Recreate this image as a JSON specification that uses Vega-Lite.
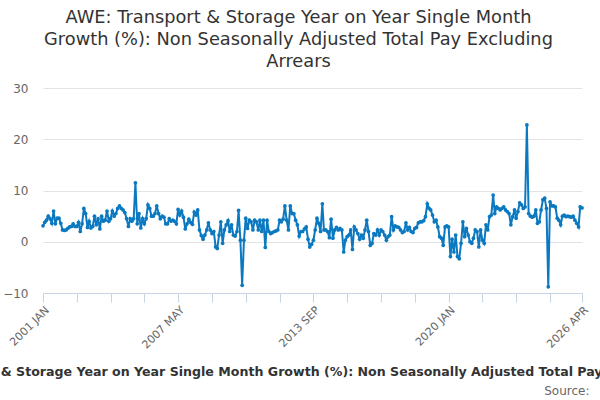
{
  "$schema": "https://vega.github.io/schema/vega-lite/v6.json",
  "width": 539,
  "height": 205,
  "autosize": {"type": "none"},
  "padding": {"left": 43, "top": 88, "right": 18, "bottom": 107},
  "title": {
    "text": ["AWE: Transport & Storage Year on Year Single Month", "Growth (%): Non Seasonally Adjusted Total Pay Excluding", "Arrears"],
    "font": "DejaVu Sans",
    "fontSize": 17.8,
    "fontWeight": "normal",
    "color": "#333333",
    "lineHeight": 22,
    "anchor": "middle",
    "dx": -14,
    "offset": 11
  },
  "config": {
    "view": {"stroke": null},
    "font": "DejaVu Sans"
  },
  "data": {
    "format": {"parse": {"m": "date:'%Y-%m'"}},
    "values": [
      {"m": "2001-01", "v": 3.1}, {"m": "2001-02", "v": 3.8}, {"m": "2001-03", "v": 4.2}, {"m": "2001-04", "v": 5.0},
      {"m": "2001-05", "v": 4.5}, {"m": "2001-06", "v": 3.6}, {"m": "2001-07", "v": 6.0}, {"m": "2001-08", "v": 3.5},
      {"m": "2001-09", "v": 4.6}, {"m": "2001-10", "v": 4.6}, {"m": "2001-11", "v": 3.6}, {"m": "2001-12", "v": 2.3},
      {"m": "2002-01", "v": 2.2}, {"m": "2002-02", "v": 2.3}, {"m": "2002-03", "v": 2.6}, {"m": "2002-04", "v": 2.9},
      {"m": "2002-05", "v": 3.0}, {"m": "2002-06", "v": 3.5}, {"m": "2002-07", "v": 3.0}, {"m": "2002-08", "v": 3.0},
      {"m": "2002-09", "v": 3.8}, {"m": "2002-10", "v": 2.0}, {"m": "2002-11", "v": 3.5}, {"m": "2002-12", "v": 6.5},
      {"m": "2003-01", "v": 5.5}, {"m": "2003-02", "v": 2.8}, {"m": "2003-03", "v": 4.0}, {"m": "2003-04", "v": 2.7},
      {"m": "2003-05", "v": 3.0}, {"m": "2003-06", "v": 5.0}, {"m": "2003-07", "v": 3.3}, {"m": "2003-08", "v": 4.5},
      {"m": "2003-09", "v": 2.5}, {"m": "2003-10", "v": 5.0}, {"m": "2003-11", "v": 4.0}, {"m": "2003-12", "v": 4.2},
      {"m": "2004-01", "v": 6.0}, {"m": "2004-02", "v": 4.0}, {"m": "2004-03", "v": 4.5}, {"m": "2004-04", "v": 6.0},
      {"m": "2004-05", "v": 5.0}, {"m": "2004-06", "v": 5.5}, {"m": "2004-07", "v": 6.5}, {"m": "2004-08", "v": 7.0},
      {"m": "2004-09", "v": 6.5}, {"m": "2004-10", "v": 6.2}, {"m": "2004-11", "v": 5.7}, {"m": "2004-12", "v": 4.5},
      {"m": "2005-01", "v": 3.0}, {"m": "2005-02", "v": 4.5}, {"m": "2005-03", "v": 4.0}, {"m": "2005-04", "v": 4.5},
      {"m": "2005-05", "v": 11.5}, {"m": "2005-06", "v": 3.5}, {"m": "2005-07", "v": 5.5}, {"m": "2005-08", "v": 2.7},
      {"m": "2005-09", "v": 4.5}, {"m": "2005-10", "v": 3.5}, {"m": "2005-11", "v": 4.5}, {"m": "2005-12", "v": 7.2},
      {"m": "2006-01", "v": 6.5}, {"m": "2006-02", "v": 5.0}, {"m": "2006-03", "v": 5.0}, {"m": "2006-04", "v": 5.5},
      {"m": "2006-05", "v": 7.0}, {"m": "2006-06", "v": 5.5}, {"m": "2006-07", "v": 4.5}, {"m": "2006-08", "v": 5.0},
      {"m": "2006-09", "v": 4.8}, {"m": "2006-10", "v": 3.5}, {"m": "2006-11", "v": 3.5}, {"m": "2006-12", "v": 4.5},
      {"m": "2007-01", "v": 4.0}, {"m": "2007-02", "v": 4.2}, {"m": "2007-03", "v": 4.0}, {"m": "2007-04", "v": 3.5},
      {"m": "2007-05", "v": 6.3}, {"m": "2007-06", "v": 5.2}, {"m": "2007-07", "v": 6.0}, {"m": "2007-08", "v": 4.8},
      {"m": "2007-09", "v": 2.5}, {"m": "2007-10", "v": 3.5}, {"m": "2007-11", "v": 4.4}, {"m": "2007-12", "v": 3.8},
      {"m": "2008-01", "v": 3.4}, {"m": "2008-02", "v": 5.8}, {"m": "2008-03", "v": 5.2}, {"m": "2008-04", "v": 6.2},
      {"m": "2008-05", "v": 2.3}, {"m": "2008-06", "v": 1.2}, {"m": "2008-07", "v": 0.5}, {"m": "2008-08", "v": 1.3},
      {"m": "2008-09", "v": 2.3}, {"m": "2008-10", "v": 3.7}, {"m": "2008-11", "v": 2.3}, {"m": "2008-12", "v": 1.6},
      {"m": "2009-01", "v": 2.0}, {"m": "2009-02", "v": -1.0}, {"m": "2009-03", "v": -1.3}, {"m": "2009-04", "v": 1.3},
      {"m": "2009-05", "v": 3.9}, {"m": "2009-06", "v": -0.3}, {"m": "2009-07", "v": 2.3}, {"m": "2009-08", "v": 3.3},
      {"m": "2009-09", "v": 4.1}, {"m": "2009-10", "v": 2.0}, {"m": "2009-11", "v": 3.3}, {"m": "2009-12", "v": 1.3},
      {"m": "2010-01", "v": 1.1}, {"m": "2010-02", "v": 2.0}, {"m": "2010-03", "v": 6.1}, {"m": "2010-04", "v": 0.3},
      {"m": "2010-05", "v": -8.5}, {"m": "2010-06", "v": 0.3}, {"m": "2010-07", "v": 4.6}, {"m": "2010-08", "v": 2.6},
      {"m": "2010-09", "v": 4.2}, {"m": "2010-10", "v": 3.9}, {"m": "2010-11", "v": 2.3}, {"m": "2010-12", "v": 4.2},
      {"m": "2011-01", "v": 3.9}, {"m": "2011-02", "v": 2.3}, {"m": "2011-03", "v": 4.2}, {"m": "2011-04", "v": 2.0},
      {"m": "2011-05", "v": 4.2}, {"m": "2011-06", "v": -1.1}, {"m": "2011-07", "v": 4.2}, {"m": "2011-08", "v": 2.0},
      {"m": "2011-09", "v": 1.6}, {"m": "2011-10", "v": 1.8}, {"m": "2011-11", "v": 2.0}, {"m": "2011-12", "v": 2.1},
      {"m": "2012-01", "v": 2.3}, {"m": "2012-02", "v": 4.2}, {"m": "2012-03", "v": 3.9}, {"m": "2012-04", "v": 4.4},
      {"m": "2012-05", "v": 7.0}, {"m": "2012-06", "v": 4.2}, {"m": "2012-07", "v": 2.3}, {"m": "2012-08", "v": 7.0},
      {"m": "2012-09", "v": 5.5}, {"m": "2012-10", "v": 5.5}, {"m": "2012-11", "v": 4.2}, {"m": "2012-12", "v": 3.3},
      {"m": "2013-01", "v": 1.1}, {"m": "2013-02", "v": 2.0}, {"m": "2013-03", "v": 2.0}, {"m": "2013-04", "v": 2.5},
      {"m": "2013-05", "v": 2.9}, {"m": "2013-06", "v": 0.5}, {"m": "2013-07", "v": -1.0}, {"m": "2013-08", "v": -0.5},
      {"m": "2013-09", "v": 0.3}, {"m": "2013-10", "v": 2.3}, {"m": "2013-11", "v": 4.6}, {"m": "2013-12", "v": 3.6},
      {"m": "2014-01", "v": 2.0}, {"m": "2014-02", "v": 7.4}, {"m": "2014-03", "v": 2.3}, {"m": "2014-04", "v": 2.3},
      {"m": "2014-05", "v": 2.0}, {"m": "2014-06", "v": 0.8}, {"m": "2014-07", "v": 4.4}, {"m": "2014-08", "v": 0.7},
      {"m": "2014-09", "v": 2.3}, {"m": "2014-10", "v": 2.8}, {"m": "2014-11", "v": 2.3}, {"m": "2014-12", "v": 2.6},
      {"m": "2015-01", "v": 2.3}, {"m": "2015-02", "v": -2.0}, {"m": "2015-03", "v": 0.3}, {"m": "2015-04", "v": 1.0},
      {"m": "2015-05", "v": 1.3}, {"m": "2015-06", "v": 2.3}, {"m": "2015-07", "v": -1.5}, {"m": "2015-08", "v": 2.9},
      {"m": "2015-09", "v": 2.3}, {"m": "2015-10", "v": 1.6}, {"m": "2015-11", "v": 0.5}, {"m": "2015-12", "v": 1.3},
      {"m": "2016-01", "v": 0.7}, {"m": "2016-02", "v": 2.3}, {"m": "2016-03", "v": 4.2}, {"m": "2016-04", "v": 2.0},
      {"m": "2016-05", "v": -0.7}, {"m": "2016-06", "v": -0.3}, {"m": "2016-07", "v": 1.6}, {"m": "2016-08", "v": 1.3},
      {"m": "2016-09", "v": 2.3}, {"m": "2016-10", "v": 1.3}, {"m": "2016-11", "v": 2.3}, {"m": "2016-12", "v": 2.0},
      {"m": "2017-01", "v": 1.3}, {"m": "2017-02", "v": 0.3}, {"m": "2017-03", "v": 1.0}, {"m": "2017-04", "v": 1.3},
      {"m": "2017-05", "v": 4.9}, {"m": "2017-06", "v": 2.3}, {"m": "2017-07", "v": 3.1}, {"m": "2017-08", "v": 2.9},
      {"m": "2017-09", "v": 2.8}, {"m": "2017-10", "v": 2.3}, {"m": "2017-11", "v": 1.8}, {"m": "2017-12", "v": 2.0},
      {"m": "2018-01", "v": 3.7}, {"m": "2018-02", "v": 2.3}, {"m": "2018-03", "v": 2.8}, {"m": "2018-04", "v": 2.0},
      {"m": "2018-05", "v": 1.8}, {"m": "2018-06", "v": 2.6}, {"m": "2018-07", "v": 2.8}, {"m": "2018-08", "v": 3.7},
      {"m": "2018-09", "v": 3.9}, {"m": "2018-10", "v": 3.9}, {"m": "2018-11", "v": 4.1}, {"m": "2018-12", "v": 4.9},
      {"m": "2019-01", "v": 7.4}, {"m": "2019-02", "v": 6.5}, {"m": "2019-03", "v": 6.2}, {"m": "2019-04", "v": 5.2},
      {"m": "2019-05", "v": 3.9}, {"m": "2019-06", "v": 4.2}, {"m": "2019-07", "v": 2.9}, {"m": "2019-08", "v": 1.0},
      {"m": "2019-09", "v": 0.7}, {"m": "2019-10", "v": -0.7}, {"m": "2019-11", "v": 2.9}, {"m": "2019-12", "v": 3.1},
      {"m": "2020-01", "v": 2.9}, {"m": "2020-02", "v": -2.9}, {"m": "2020-03", "v": 0.5}, {"m": "2020-04", "v": -2.0},
      {"m": "2020-05", "v": 1.3}, {"m": "2020-06", "v": -2.9}, {"m": "2020-07", "v": -3.3}, {"m": "2020-08", "v": -0.3},
      {"m": "2020-09", "v": 3.9}, {"m": "2020-10", "v": 1.0}, {"m": "2020-11", "v": 2.6}, {"m": "2020-12", "v": 1.3},
      {"m": "2021-01", "v": 0.0}, {"m": "2021-02", "v": -0.3}, {"m": "2021-03", "v": 0.7}, {"m": "2021-04", "v": 2.3},
      {"m": "2021-05", "v": 2.0}, {"m": "2021-06", "v": -1.0}, {"m": "2021-07", "v": 2.3}, {"m": "2021-08", "v": 0.3},
      {"m": "2021-09", "v": -0.3}, {"m": "2021-10", "v": 3.3}, {"m": "2021-11", "v": 2.3}, {"m": "2021-12", "v": 4.9},
      {"m": "2022-01", "v": 5.2}, {"m": "2022-02", "v": 9.1}, {"m": "2022-03", "v": 5.5}, {"m": "2022-04", "v": 6.8},
      {"m": "2022-05", "v": 6.5}, {"m": "2022-06", "v": 6.2}, {"m": "2022-07", "v": 6.5}, {"m": "2022-08", "v": 6.8},
      {"m": "2022-09", "v": 6.2}, {"m": "2022-10", "v": 5.9}, {"m": "2022-11", "v": 5.5}, {"m": "2022-12", "v": 3.3},
      {"m": "2023-01", "v": 4.9}, {"m": "2023-02", "v": 6.2}, {"m": "2023-03", "v": 4.6}, {"m": "2023-04", "v": 5.9},
      {"m": "2023-05", "v": 7.6}, {"m": "2023-06", "v": 7.2}, {"m": "2023-07", "v": 6.5}, {"m": "2023-08", "v": 6.8},
      {"m": "2023-09", "v": 22.8}, {"m": "2023-10", "v": 5.5}, {"m": "2023-11", "v": 5.0}, {"m": "2023-12", "v": 4.8},
      {"m": "2024-01", "v": 5.0}, {"m": "2024-02", "v": 6.2}, {"m": "2024-03", "v": 3.6}, {"m": "2024-04", "v": 3.9},
      {"m": "2024-05", "v": 6.2}, {"m": "2024-06", "v": 8.2}, {"m": "2024-07", "v": 8.5}, {"m": "2024-08", "v": 6.5},
      {"m": "2024-09", "v": -8.8}, {"m": "2024-10", "v": 7.8}, {"m": "2024-11", "v": 7.0}, {"m": "2024-12", "v": 7.0},
      {"m": "2025-01", "v": 6.8}, {"m": "2025-02", "v": 4.6}, {"m": "2025-03", "v": 4.2}, {"m": "2025-04", "v": 3.3},
      {"m": "2025-05", "v": 5.0}, {"m": "2025-06", "v": 5.2}, {"m": "2025-07", "v": 4.9}, {"m": "2025-08", "v": 5.0},
      {"m": "2025-09", "v": 4.9}, {"m": "2025-10", "v": 4.8}, {"m": "2025-11", "v": 5.0}, {"m": "2025-12", "v": 4.2},
      {"m": "2026-01", "v": 3.6}, {"m": "2026-02", "v": 2.9}, {"m": "2026-03", "v": 6.8}, {"m": "2026-04", "v": 6.6}
    ]
  },
  "layer": [
    {
      "mark": {
        "type": "line",
        "color": "#0b79c0",
        "strokeWidth": 2,
        "point": {"filled": true, "size": 14, "color": "#0b79c0"}
      },
      "encoding": {
        "x": {
          "field": "m",
          "type": "temporal",
          "scale": {
            "domain": [{"year": 2001, "month": 1, "date": 1}, {"year": 2026, "month": 4, "date": 1}]
          },
          "axis": {
            "title": "AWE: Transport & Storage Year on Year Single Month Growth (%): Non Seasonally Adjusted Total Pay Excluding Arrears",
            "titleFontSize": 12.6,
            "titleFontWeight": "bold",
            "titleColor": "#333333",
            "titleLimit": 2000,
            "titlePadding": 15,
            "titleX": 266.5,
            "values": [
              {"year": 2001, "month": 1, "date": 1}, {"year": 2002, "month": 8, "date": 1},
              {"year": 2004, "month": 3, "date": 1}, {"year": 2005, "month": 10, "date": 1},
              {"year": 2007, "month": 5, "date": 1}, {"year": 2008, "month": 12, "date": 1},
              {"year": 2010, "month": 7, "date": 1}, {"year": 2012, "month": 2, "date": 1},
              {"year": 2013, "month": 9, "date": 1}, {"year": 2015, "month": 4, "date": 1},
              {"year": 2016, "month": 11, "date": 1}, {"year": 2018, "month": 6, "date": 1},
              {"year": 2020, "month": 1, "date": 1}, {"year": 2021, "month": 8, "date": 1},
              {"year": 2023, "month": 3, "date": 1}, {"year": 2024, "month": 10, "date": 1},
              {"year": 2026, "month": 4, "date": 1}
            ],
            "labelExpr": "indexof([0, 76, 152, 228, 303], (year(datum.value) - 2001) * 12 + month(datum.value)) >= 0 ? upper(timeFormat(datum.value, '%Y %b')) : ''",
            "labelAngle": -45,
            "labelFontSize": 11,
            "labelColor": "#666666",
            "labelOverlap": false,
            "labelFlush": false,
            "grid": false,
            "domainColor": "#c6d4e4",
            "tickColor": "#c6d4e4",
            "tickSize": 9
          }
        },
        "y": {
          "field": "v",
          "type": "quantitative",
          "scale": {"domain": [-10, 30], "nice": false},
          "axis": {
            "title": null,
            "values": [-10, 0, 10, 20, 30],
            "domain": false,
            "ticks": false,
            "labelPadding": 15,
            "labelFontSize": 12,
            "labelColor": "#666666",
            "gridColor": "#e3e3e3"
          }
        }
      }
    },
    {
      "mark": {"type": "point", "opacity": 0},
      "encoding": {
        "x": {
          "field": "m",
          "type": "temporal",
          "axis": {
            "orient": "bottom",
            "title": "Source:",
            "titleAnchor": "end",
            "titleAlign": "right",
            "titleX": 546,
            "titleFontSize": 12,
            "titleFontWeight": "normal",
            "titleColor": "#666666",
            "titlePadding": 92,
            "labels": false,
            "ticks": false,
            "domain": false,
            "grid": false
          }
        }
      }
    }
  ],
  "resolve": {"axis": {"x": "independent"}}
}
